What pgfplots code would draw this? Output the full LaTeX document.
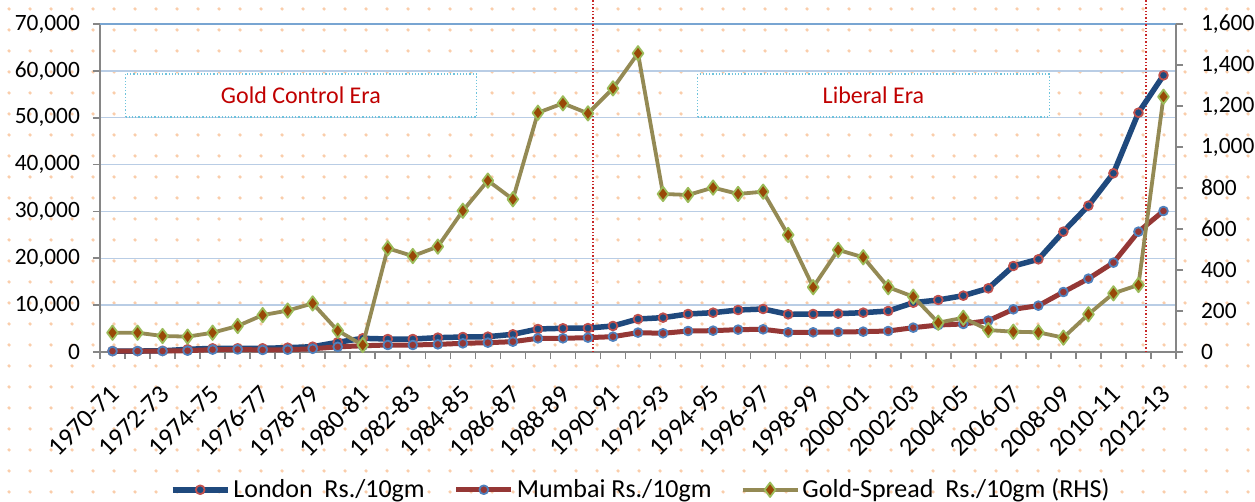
\documentclass[border=0pt]{standalone}
\usepackage{fontspec}
\setmainfont{Carlito}
\usepackage{pgfplots}
\usepackage{pgfplotstable}
\pgfplotsset{compat=1.18}
\usetikzlibrary{patterns.meta}

\definecolor{lonblue}{RGB}{31,73,125}
\definecolor{lonmark}{RGB}{192,80,77}
\definecolor{mumred}{RGB}{149,55,53}
\definecolor{mummark}{RGB}{79,129,189}
\definecolor{spreadline}{RGB}{148,138,84}
\definecolor{spreadfill}{RGB}{152,72,7}
\definecolor{spreadmark}{RGB}{155,187,89}
\definecolor{gridc}{RGB}{185,205,229}
\definecolor{topgrid}{RGB}{120,165,210}
\definecolor{axisgray}{RGB}{134,134,134}
\definecolor{dotc}{RGB}{250,205,170}
\definecolor{boxborder}{RGB}{110,195,220}
\definecolor{eratext}{RGB}{192,0,0}
\definecolor{vline}{RGB}{200,40,40}

\tikzdeclarepattern{
  name=bgdots,
  type=uncolored,
  bounding box={(0,0) and (10.5pt,10.5pt)},
  tile size={(10.5pt,10.5pt)},
  code={\fill (5.25pt,5.25pt) circle (0.95pt);}
}

\pgfplotstableread{
x london mumbai spread
0 200 184 94
1 200 193 94
2 250 202 78
3 570 278 75
4 780 506 94
5 780 540 127
6 780 432 180
7 920 486 202
8 1130 685 237
9 2070 1100 104
10 2920 1330 34
11 2770 1490 506
12 2770 1490 468
13 3060 1630 514
14 3200 1850 689
15 3270 1990 836
16 3770 2200 745
17 4910 2920 1167
18 5060 2920 1213
19 5100 3060 1164
20 5550 3270 1286
21 7040 4130 1457
22 7330 3990 771
23 8110 4480 766
24 8390 4550 802
25 8960 4770 771
26 9180 4840 782
27 8040 4200 571
28 8110 4200 316
29 8180 4270 498
30 8390 4340 462
31 8750 4480 316
32 10520 5190 270
33 11100 5760 143
34 12020 5980 167
35 13590 6690 107
36 18350 9110 99
37 19780 9890 96
38 25680 12800 70
39 31230 15650 184
40 38140 19070 286
41 51070 25680 327
42 59040 30090 1245
}\data

\pgfplotsset{
  londonstyle/.style={color=lonblue, line width=2.75pt, line join=round, mark=*, mark size=2.2pt,
    mark options={draw=lonmark, fill=lonblue, line width=0.9pt}},
  mumbaistyle/.style={color=mumred, line width=2.5pt, line join=round, mark=*, mark size=2.2pt,
    mark options={draw=mummark, fill=mumred, line width=0.9pt}},
  spreadstyle/.style={color=spreadline, line width=1.9pt, line join=round, mark=diamond*, mark size=3.6pt,
    mark options={draw=spreadmark, fill=spreadfill, line width=0.9pt}},
}

\begin{document}
\begin{tikzpicture}
\path[use as bounding box] (-50pt,-75pt) rectangle (577.5pt,176pt);
\fill[white] (-50pt,-75pt) rectangle (577.5pt,176pt);
\fill[pattern=bgdots, pattern color=dotc] (-50pt,-75pt) rectangle (577.5pt,176pt);

\begin{axis}[
  at={(0,0)}, anchor=south west,
  width=538pt, height=164pt, scale only axis,
  xmin=-0.5, xmax=42.5,
  ymin=0, ymax=70000,
  ytick={0,10000,...,70000},
  scaled y ticks=false,
  axis x line*=bottom, axis y line*=left,
  axis line style={draw=axisgray, line width=1pt, -},
  tick align=outside, tick pos=left,
  major tick length=3.5pt,
  tick style={draw=axisgray, line width=0.8pt},
  ymajorgrids, grid style={gridc, line width=0.75pt},
  xtick={-0.5,0.5,...,42.5}, xticklabels={},
  extra x ticks={0,2,...,42},
  extra x tick labels={1970-71,1972-73,1974-75,1976-77,1978-79,1980-81,1982-83,1984-85,1986-87,1988-89,1990-91,1992-93,1994-95,1996-97,1998-99,2000-01,2002-03,2004-05,2006-07,2008-09,2010-11,2012-13},
  extra x tick style={major tick length=0pt, xticklabel style={yshift=-15pt, xshift=-2pt, rotate=45, anchor=north east, inner sep=0.5pt, font=\fontsize{13}{15}\selectfont}},
  yticklabel style={font=\fontsize{11.7}{14}\selectfont, xshift=-3pt},
  /pgf/number format/.cd, 1000 sep={,}, assume math mode=true,
  /pgfplots/.cd,
  clip=false,
]
\draw[topgrid, line width=1pt] (axis cs:-0.5,70000) -- (axis cs:42.5,70000);
\draw[boxborder, densely dotted, line width=0.6pt, fill=white] (axis cs:0.51,50150) rectangle (axis cs:14.55,59330);
\node[text=eratext, font=\fontsize{12}{14}\selectfont] at (axis cs:7.53,54740) {Gold Control Era};
\draw[boxborder, densely dotted, line width=0.6pt, fill=white] (axis cs:23.39,50150) rectangle (axis cs:37.43,59330);
\node[text=eratext, font=\fontsize{12}{14}\selectfont] at (axis cs:30.41,54740) {Liberal Era};
\draw[vline, densely dotted, line width=0.7pt] (axis cs:19.2,0) -- (axis cs:19.2,75100);
\draw[vline, densely dotted, line width=0.7pt] (axis cs:41.3,0) -- (axis cs:41.3,75100);
\addplot[londonstyle] table[x=x, y=london] {\data};
\addplot[mumbaistyle] table[x=x, y=mumbai] {\data};
\end{axis}

\begin{axis}[
  at={(0,0)}, anchor=south west,
  width=538pt, height=164pt, scale only axis,
  xmin=-0.5, xmax=42.5,
  ymin=0, ymax=1600,
  ytick={0,200,...,1600},
  scaled y ticks=false,
  axis y line*=right, axis x line=none,
  axis line style={draw=axisgray, line width=1pt, -},
  tick align=outside,
  major tick length=3.5pt,
  tick style={draw=axisgray, line width=0.8pt},
  yticklabel style={font=\fontsize{11.7}{14}\selectfont, xshift=5.5pt},
  /pgf/number format/.cd, 1000 sep={,}, assume math mode=true,
  /pgfplots/.cd,
  clip=false,
  legend columns=3,
  legend style={draw=none, fill=none, at={(0.503,-0.42)}, anchor=center,
    font=\fontsize{13}{15}\selectfont,
    nodes={inner xsep=1.5pt},
    /tikz/every even column/.append style={column sep=13pt}},
  legend image code/.code={\draw[mark repeat=2,mark phase=2,#1] plot coordinates {(0pt,0pt) (13.75pt,0pt) (27.5pt,0pt)};},
]
\addlegendimage{londonstyle}
\addlegendentry{London\ \ Rs./10gm}
\addlegendimage{mumbaistyle}
\addlegendentry{Mumbai Rs./10gm}
\addplot[spreadstyle] table[x=x, y=spread] {\data};
\addlegendentry{Gold-Spread\ \ Rs./10gm (RHS)}
\end{axis}
\end{tikzpicture}
\end{document}
